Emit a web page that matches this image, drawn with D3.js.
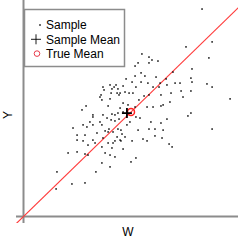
<!DOCTYPE html>
<html>
<head>
<meta charset="utf-8">
<script src="https://cdnjs.cloudflare.com/ajax/libs/d3/7.8.5/d3.min.js"></script>
<style>
  body { margin: 0; background: #fff; }
  text { font-family: "Liberation Sans", Arial, sans-serif; font-size: 12px; fill: #000; }
</style>
</head>
<body>
<svg id="chart" width="240" height="240"></svg>
<script>
// sample values
var sampleW = [8.32,8.79,7.57,5.51,5.84,5.33,5.19,5.84,5.98,6.26,8.64,7.85,6.96,7.80,7.85,8.55,8.79,7.80,9.63,7.80,8.79,7.66,
  5.19,5.47,5.65,4.77,5.05,5.23,4.63,4.72,4.91,4.49,5.09,5.47,5.79,6.03,6.36,6.31,6.64,6.68,7.06,7.29,6.17,5.84,5.61,5.37,
  6.40,6.87,6.82,7.34,7.43,6.50,5.75,6.03,6.40,5.19,4.86,4.63,4.49,4.63,5.23,5.42,6.68,4.95,5.93,6.40,4.81,5.33,5.84,6.12,
  6.50,6.12,6.45,5.56,4.72,4.53,4.58,4.53,5.05,5.75,6.78,6.92,4.63,5.23,5.00,
  3.69,3.74,4.02,4.30,4.21,4.11,4.39,4.07,4.35,3.60,3.55,3.64,4.02,4.44,2.90,3.93,
  2.71,3.22,3.22,3.69,3.88,4.11,4.07,4.25,4.39,4.44,4.25,3.55,2.76,2.94,3.08,3.22,3.64,2.29,3.97,4.39,4.16,3.93,3.79,2.48,
  2.85,3.41,2.48,2.76,3.22,3.69,4.35,4.49,4.25,3.93,4.16,3.32,2.99,3.64,4.11,2.48,2.06,2.85,2.99,3.79,4.02,4.25,3.64,4.02,
  1.54,3.36,2.24,2.85,1.50];
var sampleY = [9.95,8.37,8.13,7.79,7.64,7.36,7.21,7.36,7.50,7.45,7.60,7.07,6.92,6.63,6.44,6.35,6.20,6.01,5.63,4.95,4.18,4.81,
  6.73,6.88,6.73,6.59,6.44,6.20,6.25,5.96,5.91,5.91,5.91,6.44,6.39,6.20,6.39,6.20,6.59,6.30,6.39,6.39,6.68,5.82,5.77,5.58,
  5.82,5.91,5.48,6.01,5.72,5.34,5.24,5.24,5.29,5.24,5.34,5.43,5.19,5.00,4.76,4.71,4.66,4.52,4.52,4.47,4.38,4.13,4.18,4.18,
  4.13,3.85,3.75,3.70,3.80,4.13,3.94,3.61,3.61,3.61,3.46,3.32,3.22,2.79,2.60,
  6.20,6.06,6.30,6.30,6.20,6.11,6.11,5.91,5.91,5.82,5.72,5.58,5.63,5.82,5.29,5.29,
  5.10,4.86,4.76,4.86,4.71,4.90,4.62,4.86,4.95,4.66,4.57,4.52,4.38,4.28,4.52,4.38,4.38,4.23,4.18,4.18,4.04,4.04,4.09,3.89,
  3.89,3.99,3.65,3.61,3.65,3.75,3.80,3.65,3.61,3.51,3.51,3.51,3.41,3.32,3.27,3.08,3.03,2.98,2.93,3.03,2.93,2.84,2.55,2.36,
  2.12,2.12,1.54,1.59,1.30];
var sampleMean = [4.81, 4.95];
var trueMean = [5, 5];
var legendLabels = ["Sample", "Sample Mean", "True Mean"];

var svg = d3.select("#chart");
var x = d3.scaleLinear().domain([-0.374, 10.0]).range([16, 238]);
var y = d3.scaleLinear().domain([-0.337, 10.385]).range([223, 0]);

svg.append("clipPath").attr("id", "clip")
  .append("rect").attr("x", 16).attr("y", 0).attr("width", 222).attr("height", 223);
var plot = svg.append("g").attr("clip-path", "url(#clip)");

// axes through the origin
plot.append("line")
  .attr("x1", x(-0.374)).attr("x2", x(10.0)).attr("y1", y(0) + 0.5).attr("y2", y(0) + 0.5)
  .attr("stroke", "#8c8c8c").attr("stroke-width", 2);
plot.append("line")
  .attr("x1", x(0) - 0.5).attr("x2", x(0) - 0.5).attr("y1", y(-0.337)).attr("y2", y(10.385))
  .attr("stroke", "#8c8c8c").attr("stroke-width", 2);

// y = x
plot.append("line")
  .attr("x1", x(-0.4)).attr("y1", y(-0.4)).attr("x2", x(10.5)).attr("y2", y(10.5))
  .attr("stroke", "#ff3b3b").attr("stroke-width", 1.2);

plot.selectAll("rect.pt").data(d3.range(sampleW.length)).enter()
  .append("rect").attr("class", "pt")
  .attr("x", function(i) { return x(sampleW[i]) - 0.75; })
  .attr("y", function(i) { return y(sampleY[i]) - 0.75; })
  .attr("width", 1.5).attr("height", 1.5).attr("fill", "#000");

plot.append("circle")
  .attr("cx", x(trueMean[0])).attr("cy", y(trueMean[1])).attr("r", 3.5)
  .attr("fill", "none").attr("stroke", "#ff2020").attr("stroke-width", 1.5);
plot.append("path")
  .attr("d", "M" + (x(sampleMean[0]) - 5) + "," + y(sampleMean[1]) + "h10M" + x(sampleMean[0]) + "," + (y(sampleMean[1]) - 5) + "v10")
  .attr("stroke", "#000").attr("stroke-width", 1.8);

// legend
var lg = svg.append("g");
lg.append("rect").attr("x", 24.5).attr("y", 9.5).attr("width", 100).attr("height", 57)
  .attr("fill", "#fff").attr("stroke", "#8c8c8c").attr("stroke-width", 1.5);
lg.selectAll("text").data(legendLabels).enter().append("text")
  .attr("x", 46).attr("y", function(d, i) { return 25 + i * 14.3; })
  .attr("dy", "0.35em").text(function(d) { return d; });
lg.append("rect").attr("x", 39.25).attr("y", 24.25).attr("width", 1.5).attr("height", 1.5).attr("fill", "#000");
lg.append("path").attr("d", "M31,39.3h10M36,34.3v10").attr("stroke", "#000").attr("stroke-width", 0.9);
lg.append("circle").attr("cx", 37).attr("cy", 53.6).attr("r", 2.8).attr("fill", "none")
  .attr("stroke", "#e83a4a").attr("stroke-width", 1);

svg.append("text").attr("x", 128).attr("y", 232).attr("dy", "0.35em")
  .attr("text-anchor", "middle").text("W");
svg.append("text").attr("transform", "translate(8,115) rotate(-90)").attr("dy", "0.35em")
  .attr("text-anchor", "middle").text("Y");
</script>
</body>
</html>
